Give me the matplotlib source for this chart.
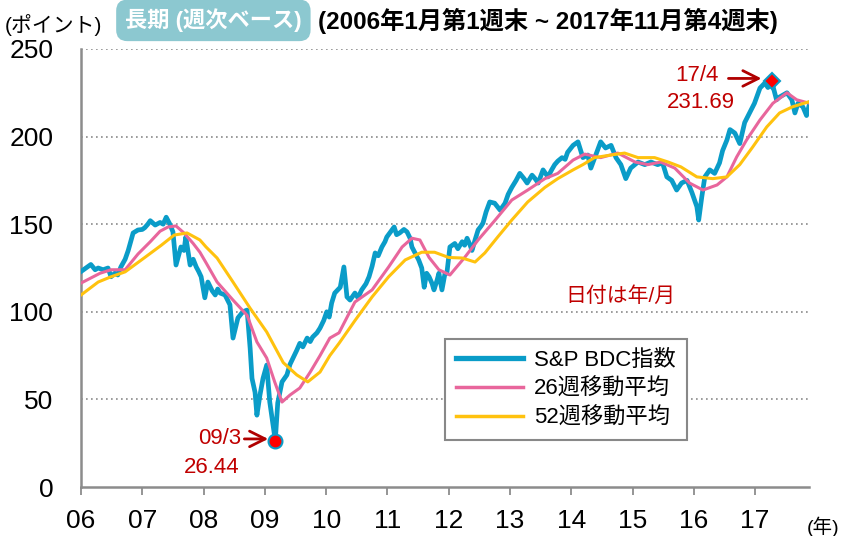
import numpy as np
import matplotlib
matplotlib.use("Agg")
import matplotlib.pyplot as plt

plt.rcParams['font.family'] = ['Liberation Sans', 'Noto Sans CJK JP', 'DejaVu Sans']

# S&P BDC index, weekly (decimal year, points)
bdc_t = [2006.00, 2006.08, 2006.16, 2006.23, 2006.28, 2006.36, 2006.44, 2006.49, 2006.55, 2006.60,
         2006.65, 2006.72, 2006.77, 2006.85, 2006.93, 2007.00, 2007.04, 2007.09, 2007.13, 2007.21,
         2007.29, 2007.34, 2007.39, 2007.45, 2007.50, 2007.55, 2007.60, 2007.63, 2007.68, 2007.71,
         2007.78, 2007.83, 2007.88, 2007.92, 2007.96, 2008.02, 2008.07, 2008.14, 2008.19, 2008.23,
         2008.27, 2008.35, 2008.43, 2008.48, 2008.56, 2008.64, 2008.71, 2008.76, 2008.79, 2008.84,
         2008.87, 2008.92, 2008.97, 2009.03, 2009.08, 2009.17, 2009.21, 2009.28, 2009.36, 2009.41,
         2009.46, 2009.52, 2009.57, 2009.62, 2009.69, 2009.74, 2009.78, 2009.85, 2009.90, 2009.96,
         2010.01, 2010.05, 2010.09, 2010.14, 2010.23, 2010.29, 2010.34, 2010.39, 2010.47, 2010.52,
         2010.58, 2010.65, 2010.70, 2010.75, 2010.80, 2010.85, 2010.91, 2010.96, 2010.99, 2011.06,
         2011.11, 2011.15, 2011.20, 2011.27, 2011.32, 2011.37, 2011.40, 2011.46, 2011.51, 2011.56,
         2011.60, 2011.64, 2011.68, 2011.73, 2011.76, 2011.81, 2011.84, 2011.89, 2011.94, 2011.97,
         2012.02, 2012.10, 2012.15, 2012.22, 2012.26, 2012.30, 2012.35, 2012.38, 2012.43, 2012.48,
         2012.53, 2012.56, 2012.61, 2012.67, 2012.75, 2012.84, 2012.92, 2012.97, 2013.03, 2013.10,
         2013.16, 2013.23, 2013.28, 2013.36, 2013.41, 2013.46, 2013.54, 2013.62, 2013.68, 2013.73,
         2013.78, 2013.85, 2013.90, 2013.94, 2014.03, 2014.11, 2014.19, 2014.27, 2014.32, 2014.40,
         2014.48, 2014.56, 2014.65, 2014.73, 2014.81, 2014.89, 2014.97, 2015.09, 2015.20, 2015.30,
         2015.41, 2015.49, 2015.56, 2015.64, 2015.72, 2015.80, 2015.89, 2015.97, 2016.05, 2016.08,
         2016.13, 2016.18, 2016.26, 2016.34, 2016.42, 2016.47, 2016.54, 2016.59, 2016.67, 2016.75,
         2016.83, 2016.91, 2016.99, 2017.08, 2017.16, 2017.21, 2017.27, 2017.35, 2017.40, 2017.52,
         2017.60, 2017.65, 2017.70, 2017.78, 2017.84, 2017.89]
bdc_v = [123, 125, 127, 124, 125, 124, 125, 120, 122, 121,
         125.6, 130, 135, 145, 146.7, 147, 148, 150, 152, 149.5,
         151, 150, 154, 150, 145.6, 126.7, 133, 137, 135, 142.7,
         126.7, 130, 125.6, 123, 120, 108, 117, 112, 109.6, 113,
         110.7, 109.6, 104, 85, 96.5, 100, 101, 79, 62, 54,
         41, 52.5, 62, 69.6, 48.5, 26.44, 48, 60, 64, 70,
         73.6, 78, 82, 80, 85, 83, 85.6, 88, 90.7, 95,
         100, 97, 105, 110.7, 114, 125.6, 108.5, 106.7, 110.7, 108,
         112.5, 116, 120, 126, 133.6, 132, 137, 140, 142.7, 146,
         148.4, 144, 145, 147, 145.6, 142, 137, 133, 129.6, 125,
         114, 122, 120, 116, 112.5, 118, 122, 112.5, 122, 122,
         137, 139, 136, 140, 138, 142, 138, 135, 141, 146.7,
         149, 150.7, 157, 162.7, 162, 158, 162, 167, 171, 175,
         179, 176, 173.5, 178, 176, 173.5, 181, 177, 181, 184,
         186, 188, 187, 191, 195, 197, 188, 189.5, 182, 189.5,
         197, 193.5, 195, 188, 184, 176, 182, 185.5, 184, 185.5,
         184, 185, 177, 175, 169.5, 173.5, 175, 168, 160, 152.4,
         165.5, 177, 181, 179, 185, 192, 198, 204, 202, 196,
         208, 213.5, 219, 227.7, 230.6, 228, 231.69, 221, 222.6, 225,
         221, 213.5, 219, 217, 212, 219]

# 26-week moving average
ma26_t = [2006.00, 2006.31, 2006.49, 2006.72, 2006.93, 2007.13, 2007.29, 2007.42, 2007.55, 2007.68,
          2007.83, 2007.94, 2008.04, 2008.22, 2008.48, 2008.71, 2008.87, 2009.03, 2009.16, 2009.28,
          2009.41, 2009.57, 2009.74, 2009.90, 2010.06, 2010.21, 2010.47, 2010.75, 2011.02, 2011.24,
          2011.40, 2011.53, 2011.68, 2011.84, 2012.02, 2012.26, 2012.48, 2012.75, 2013.03, 2013.29,
          2013.57, 2013.78, 2014.03, 2014.22, 2014.48, 2014.76, 2015.04, 2015.25, 2015.46, 2015.69,
          2015.93, 2016.15, 2016.38, 2016.54, 2016.70, 2016.86, 2017.08, 2017.29, 2017.52, 2017.68,
          2017.89]
ma26_v = [116.4, 122, 124, 124, 133, 140, 146, 148.4, 149, 145,
          139, 134, 128, 117, 106.7, 98, 82.8, 73.6, 60, 48.5,
          52.5, 56.5, 65.6, 75, 85, 88, 105.6, 112.5, 125.6, 137,
          142, 141, 131, 124, 121, 131, 141, 152, 163.8, 169.5,
          176, 179, 186.6, 190, 188, 190.6, 185.5, 184, 185.5, 182,
          173.5, 169.5, 172.4, 177, 188.4, 198, 209.5, 219, 225, 221,
          219]

# 52-week moving average
ma52_t = [2006.00, 2006.28, 2006.49, 2006.72, 2007.04, 2007.31, 2007.52, 2007.73, 2007.94, 2008.04,
          2008.22, 2008.48, 2008.76, 2009.03, 2009.30, 2009.52, 2009.70, 2009.90, 2010.06, 2010.21,
          2010.47, 2010.75, 2011.02, 2011.29, 2011.56, 2011.77, 2012.00, 2012.22, 2012.43, 2012.59,
          2012.80, 2013.03, 2013.29, 2013.57, 2013.78, 2014.03, 2014.19, 2014.38, 2014.65, 2014.87,
          2015.09, 2015.36, 2015.58, 2015.79, 2016.05, 2016.31, 2016.54, 2016.75, 2016.96, 2017.19,
          2017.40, 2017.61, 2017.89]
ma52_v = [109.6, 117, 120, 122.8, 131, 138, 143.8, 145, 141, 137,
          130.7, 117, 102, 88.5, 71, 64, 60, 65.6, 75, 82,
          95, 108.5, 120, 129.6, 134, 134, 131, 130.7, 128.4, 133.6,
          142.7, 152.4, 162.7, 171, 176, 181, 184, 188, 189.5, 190.6,
          188, 188, 185.5, 182.7, 177, 176, 177, 184, 194, 205.5,
          213.5, 217, 220]

years = list(range(2006, 2018))
year_labels = ['06', '07', '08', '09', '10', '11', '12', '13', '14', '15', '16', '17']

low_t, low_v = 2009.17, 26.44
high_t, high_v = 2017.27, 231.69

blue = '#0a9cc8'
pink = '#e8669c'
yellow = '#ffc20e'
red = '#c00000'
grey = '#8c8c8c'

fig = plt.figure(figsize=(8.45, 5.36), dpi=100)
ax = fig.add_axes([0.0959, 0.0914, 0.8615, 0.8172])

ax.plot(bdc_t, bdc_v, color=blue, lw=3.4, solid_joinstyle='round', label='S&P BDC指数', zorder=3)
ax.plot(ma26_t, ma26_v, color=pink, lw=2.2, label='26週移動平均', zorder=4)
ax.plot(ma52_t, ma52_v, color=yellow, lw=2.2, label='52週移動平均', zorder=4)

# low / high markers
ax.plot([low_t], [low_v], 'o', ms=10, mfc='#ff0000', mec=blue, mew=1.5, zorder=6)
ax.plot([high_t], [high_v], 'D', ms=8, mfc='#ff0000', mec=blue, mew=1.5, zorder=6)

ax.annotate('', xy=(low_t - 0.07, low_v + 1), xytext=(low_t - 0.55, low_v + 1),
            arrowprops=dict(arrowstyle='->', color='#b00000', lw=2, mutation_scale=28))
ax.text(low_t - 0.56, low_v + 1, '09/3', color=red, fontsize=16, ha='right', va='center')
ax.text(low_t - 0.58, low_v - 15.5, '26.44', color=red, fontsize=16, ha='right', va='center')

ax.annotate('', xy=(high_t - 0.12, high_v + 1.5), xytext=(high_t - 0.75, high_v + 1.5),
            arrowprops=dict(arrowstyle='->', color='#b00000', lw=2, mutation_scale=28))
ax.text(high_t - 0.86, high_v + 3, '17/4', color=red, fontsize=16, ha='right', va='center')
ax.text(high_t - 0.60, high_v - 12.5, '231.69', color=red, fontsize=16, ha='right', va='center')

ax.text(2013.9, 109, '日付は年/月', color=red, fontsize=15, ha='left', va='center')

ax.set_xlim(2006, 2017.88)
ax.set_ylim(0, 250)
ax.set_yticks(range(0, 251, 50))
ax.set_xticks(years)
ax.set_xticklabels(year_labels)
ax.tick_params(axis='x', direction='out', length=6, width=1.3, color=grey, labelsize=19, pad=10)
ax.tick_params(axis='y', length=0, labelsize=19, pad=20)

for v in range(50, 251, 50):
    ax.axhline(v, color='#8a8a8a', lw=1.2, ls=(0, (1, 2)), zorder=1)

for s in ['top', 'right']:
    ax.spines[s].set_visible(False)
for s in ['left', 'bottom']:
    ax.spines[s].set_color(grey)
    ax.spines[s].set_linewidth(1.8)

leg = ax.legend(loc='upper left', bbox_to_anchor=(0.485, 0.363), fontsize=16,
                handlelength=3.0, borderpad=0.5, labelspacing=0.35, handletextpad=0.5,
                fancybox=False, framealpha=1, edgecolor='#888888')
leg.get_frame().set_linewidth(1.5)
for line in leg.get_lines():
    line.set_linewidth(3.8 if line.get_color() == blue else 2.5)

# headings
fig.text(0.006, 0.953, '(ポイント)', fontsize=15, ha='left', va='center')
fig.text(0.148, 0.962, '長期 (週次ベース)', fontsize=16, fontweight='bold', color='white',
         ha='left', va='center',
         bbox=dict(boxstyle='round,pad=0.4,rounding_size=0.5', fc='#8cc8d0', ec='none'))
fig.text(0.376, 0.960, '(2006年1月第1週末 ~ 2017年11月第4週末)', fontsize=17.5,
         fontweight='bold', ha='left', va='center')
fig.text(0.955, 0.018, '(年)', fontsize=14, ha='left', va='center')

fig.savefig('out.png', dpi=100)
